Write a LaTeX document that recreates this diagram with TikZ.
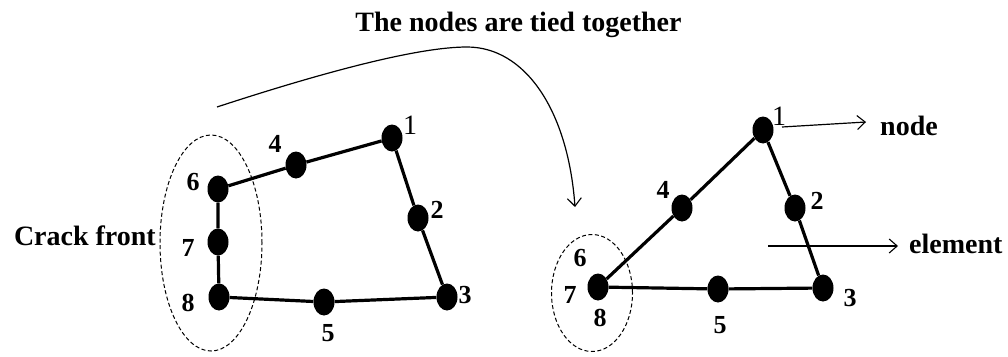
\documentclass[tikz,border=0pt]{standalone}
\usepackage{fontspec}
\setmainfont{Liberation Serif}
\usetikzlibrary{shapes.geometric,arrows.meta}
\tikzset{
  dot/.style={ellipse,fill=black,inner sep=0pt,minimum width=21pt,minimum height=27pt},
  lbl/.style={inner sep=0pt,font=\fontsize{26}{26}\selectfont\bfseries},
  lblr/.style={inner sep=0pt,font=\fontsize{28}{28}\selectfont},
  txt/.style={inner sep=0pt,font=\fontsize{28}{28}\selectfont\bfseries},
  edge/.style={line width=3.2pt},
  crack/.style={ellipse,draw,dashed,line width=1pt,dash pattern=on 4pt off 2.5pt,inner sep=0pt},
  pointer/.style={line width=1.2pt,-{Straight Barb[length=8pt,width=14pt,line width=1.1pt]}},
}
\begin{document}
\begin{tikzpicture}[x=1pt,y=-1pt]
\useasboundingbox (0,0) rectangle (1008,356);
% left element
\node[crack,minimum width=102pt,minimum height=216pt] (cL) at (211,243) {};
\node[dot] (L1) at (392,138) {};
\node[dot] (L2) at (418,218) {};
\node[dot] (L3) at (447,297) {};
\node[dot] (L4) at (296,165) {};
\node[dot] (L5) at (324,302) {};
\node[dot] (L6) at (218,189) {};
\node[dot] (L7) at (218,242) {};
\node[dot] (L8) at (219,297) {};
\draw[edge] (L6) -- (L4) -- (L1) -- (L2) -- (L3) -- (L5) -- (L8) -- (L7) -- (L6);
\node[lblr] (tL1) at (410,125) {1};
\node[lbl] (tL4) at (275,144) {4};
\node[lbl] (tL6) at (193,182) {6};
\node[lbl] (tL2) at (437,210) {2};
\node[lbl] (tL7) at (188,248) {7};
\node[lbl] (tL8) at (188,303) {8};
\node[lbl] (tL5) at (328,333) {5};
\node[lbl] (tL3) at (465,295) {3};
\node[txt,anchor=base east] (crackfront) at (156,245) {Crack front};
% right element
\node[crack,minimum width=81pt,minimum height=117pt] (cR) at (592,293) {};
\node[dot] (R1) at (763,130) {};
\node[dot] (R2) at (795,208) {};
\node[dot] (R3) at (823,288) {};
\node[dot] (R4) at (682,208) {};
\node[dot] (R5) at (718,289) {};
\node[dot] (R7) at (598,287) {};
\draw[edge] (R7) -- (R4) -- (R1) -- (R2) -- (R3) -- (R5) -- (R7);
\node[lblr] (tR1) at (779,116) {1};
\node[lbl] (tR4) at (663,190) {4};
\node[lbl] (tR2) at (817,201) {2};
\node[lbl] (tR6) at (580,258) {6};
\node[lbl] (tR7) at (570,295) {7};
\node[lbl] (tR8) at (600,318) {8};
\node[lbl] (tR5) at (720,325) {5};
\node[lbl] (tR3) at (850,298) {3};
% pointers
\coordinate (ns) at (782,127);
\coordinate (ne) at (866,122);
\draw[pointer] (ns) -- (ne);
\node[txt,anchor=base west] (nodetxt) at (880,135) {node};
\coordinate (es) at (768,246);
\coordinate (ee) at (898,246);
\draw[pointer] (es) -- (ee);
\node[txt,anchor=base west] (elemtxt) at (909,253) {element};
% title and curve
\node[txt,anchor=base] (title) at (518.5,31) {The nodes are tied together};
\coordinate (cs) at (217,107);
\coordinate (cm) at (467,47);
\coordinate (ct) at (575,207);
\draw[pointer] (cs) .. controls (330,70) and (420,47) .. (cm) .. controls (525,47) and (568,110) .. (ct);
\end{tikzpicture}
\end{document}
